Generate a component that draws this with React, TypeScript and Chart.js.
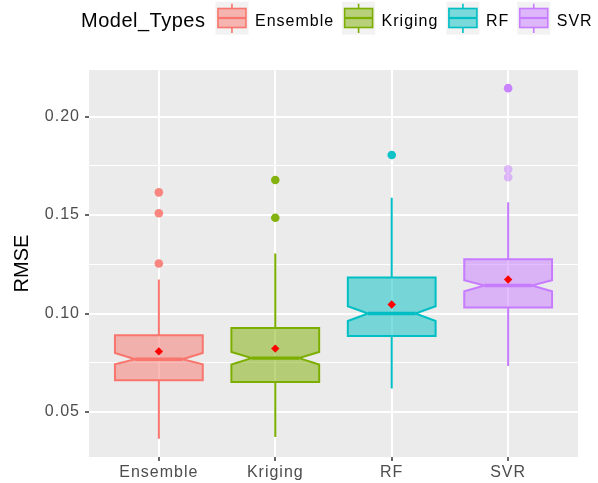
import React, { useEffect, useRef } from 'react';
import { Chart, registerables } from 'chart.js';

Chart.register(...registerables);

// ---- Data ----
const categories = ['Ensemble', 'Kriging', 'RF', 'SVR'];
const whiskerLow = [0.0365, 0.0373, 0.062, 0.0734];
const q1 = [0.0661, 0.0652, 0.0886, 0.1031];
const notchLow = [0.0742, 0.0741, 0.0962, 0.1113];
const medians = [0.0768, 0.0774, 0.1, 0.1142];
const notchHigh = [0.08, 0.0805, 0.1037, 0.1169];
const q3 = [0.089, 0.0927, 0.1183, 0.1275];
const whiskerHigh = [0.1173, 0.1305, 0.1588, 0.1565];
const means = [0.0808, 0.0822, 0.1046, 0.1173];

const ensembleOutliers = [0.1615, 0.1509, 0.1254];
const krigingOutliers = [0.1678, 0.1486];
const rfOutliers = [0.1805];
const svrOutliers = [0.2144, 0.1732, 0.1692];
// how many observations overlap at each outlier (overplotting)
const ensembleOutlierCounts = [3, 3, 3];
const krigingOutlierCounts = [4, 4];
const rfOutlierCounts = [4];
const svrOutlierCounts = [4, 1, 1];

const yMajorTicks = [0.05, 0.1, 0.15, 0.2];
const yMinorTicks = [0.075, 0.125, 0.175];
const yMin = 0.0272;
const yMax = 0.2236;

const legendTitle = 'Model_Types';
const yAxisTitle = 'RMSE';
const colors = ['#F8766D', '#7CAE00', '#00BFC4', '#C77CFF'];

const outlierSets = [ensembleOutliers, krigingOutliers, rfOutliers, svrOutliers];
const outlierCountSets = [ensembleOutlierCounts, krigingOutlierCounts, rfOutlierCounts, svrOutlierCounts];

const FONT = '"Liberation Sans", Arial, Helvetica, sans-serif';

function rgba(hex: string, a: number) {
  const n = parseInt(hex.slice(1), 16);
  return `rgba(${(n >> 16) & 255},${(n >> 8) & 255},${n & 255},${a})`;
}

const panelPlugin = {
  id: 'panelBg',
  beforeDraw(chart: any) {
    const { ctx, chartArea } = chart;
    ctx.save();
    ctx.letterSpacing = '0px';
    ctx.fillStyle = '#EBEBEB';
    ctx.fillRect(chartArea.left, chartArea.top, chartArea.right - chartArea.left, chartArea.bottom - chartArea.top);
    ctx.restore();
    ctx.letterSpacing = '0px';
  },
  afterDatasetsDraw(chart: any) {
    // tick labels are drawn after datasets (ticks.z = 1); give them ggplot-like spacing
    chart.ctx.letterSpacing = '1px';
  },
};

const boxPlugin = {
  id: 'notchedBoxes',
  beforeDatasetsDraw(chart: any) {
    const { ctx } = chart;
    const x = chart.scales.x;
    const y = chart.scales.y;
    const unit = x.getPixelForValue(1) - x.getPixelForValue(0);
    const halfW = unit * 0.377;
    const inset = halfW * 0.46;
    categories.forEach((_, i) => {
      const cx = x.getPixelForValue(i);
      const col = colors[i];
      const yq3 = y.getPixelForValue(q3[i]);
      const yq1 = y.getPixelForValue(q1[i]);
      const ynh = y.getPixelForValue(notchHigh[i]);
      const ynl = y.getPixelForValue(notchLow[i]);
      const ymed = y.getPixelForValue(medians[i]);
      const l = cx - halfW;
      const r = cx + halfW;
      ctx.save();
      ctx.strokeStyle = col;
      ctx.lineWidth = 2;
      ctx.lineCap = 'butt';
      ctx.beginPath();
      ctx.moveTo(cx, y.getPixelForValue(whiskerHigh[i]));
      ctx.lineTo(cx, yq3);
      ctx.moveTo(cx, yq1);
      ctx.lineTo(cx, y.getPixelForValue(whiskerLow[i]));
      ctx.stroke();

      ctx.beginPath();
      ctx.moveTo(l, yq3);
      ctx.lineTo(r, yq3);
      ctx.lineTo(r, ynh);
      ctx.lineTo(r - inset, ymed);
      ctx.lineTo(r, ynl);
      ctx.lineTo(r, yq1);
      ctx.lineTo(l, yq1);
      ctx.lineTo(l, ynl);
      ctx.lineTo(l + inset, ymed);
      ctx.lineTo(l, ynh);
      ctx.closePath();
      ctx.fillStyle = rgba(col, 0.5);
      ctx.fill();
      ctx.lineJoin = 'miter';
      ctx.stroke();

      ctx.lineWidth = 3.4;
      ctx.beginPath();
      ctx.moveTo(l + inset, ymed);
      ctx.lineTo(r - inset, ymed);
      ctx.stroke();
      ctx.restore();
    });
  },
};

const legendPlugin = {
  id: 'ggLegend',
  afterDraw(chart: any) {
    const { ctx } = chart;
    ctx.save();
    ctx.textAlign = 'left';
    ctx.textBaseline = 'alphabetic';
    ctx.letterSpacing = '0.5px';
    ctx.font = `20px ${FONT}`;
    ctx.fillStyle = '#000000';
    let xPos = 81;
    ctx.fillText(legendTitle, xPos, 26.7);
    xPos += ctx.measureText(legendTitle).width + 10;
    ctx.letterSpacing = '1px';
    ctx.font = `16px ${FONT}`;
    const keyTop = 1.7;
    const keySize = 33;
    categories.forEach((c, i) => {
      const col = colors[i];
      ctx.fillStyle = '#F2F2F2';
      ctx.fillRect(xPos, keyTop, keySize, keySize);
      const cx = xPos + keySize / 2;
      const bl = xPos + 2.5;
      const bw = keySize - 5;
      const bt = 8.5;
      const bb = 27.5;
      ctx.strokeStyle = col;
      ctx.lineWidth = 1.6;
      ctx.beginPath();
      ctx.moveTo(cx, 3.8);
      ctx.lineTo(cx, bt);
      ctx.moveTo(cx, bb);
      ctx.lineTo(cx, 33);
      ctx.stroke();
      ctx.fillStyle = rgba(col, 0.5);
      ctx.fillRect(bl, bt, bw, bb - bt);
      ctx.strokeRect(bl, bt, bw, bb - bt);
      ctx.lineWidth = 2.2;
      ctx.beginPath();
      ctx.moveTo(bl, (bt + bb) / 2);
      ctx.lineTo(bl + bw, (bt + bb) / 2);
      ctx.stroke();
      xPos += keySize + 6.5;
      ctx.fillStyle = '#000000';
      ctx.fillText(c, xPos, 25.8);
      xPos += ctx.measureText(c).width + 8;
    });
    ctx.restore();
  },
};

export default function App() {
  const canvasRef = useRef<HTMLCanvasElement | null>(null);

  useEffect(() => {
    const canvas = canvasRef.current;
    if (!canvas) return;

    const datasets: any[] = categories.map((c, i) => ({
      label: c,
      data: outlierSets[i].map((v) => ({ x: i, y: v })),
      pointRadius: 4.3,
      pointHoverRadius: 4.3,
      pointBackgroundColor: outlierCountSets[i].map((n) => rgba(colors[i], 1 - Math.pow(0.5, n))),
      pointBorderWidth: 0,
      showLine: false,
    }));
    datasets.push({
      label: 'mean',
      data: means.map((m, i) => ({ x: i, y: m })),
      pointStyle: 'rectRot',
      pointRadius: 4.2,
      pointHoverRadius: 4.2,
      pointBackgroundColor: '#FF0000',
      pointBorderWidth: 0,
      showLine: false,
    });

    const chart = new Chart(canvas, {
      type: 'scatter',
      data: { datasets },
      options: {
        animation: false,
        responsive: false,
        events: [],
        layout: { padding: { top: 70, right: 20, left: 0, bottom: 0 } },
        plugins: {
          legend: { display: false },
          tooltip: { enabled: false },
        },
        scales: {
          x: {
            type: 'linear',
            min: -0.6,
            max: 3.6,
            afterBuildTicks: (scale: any) => {
              scale.ticks = categories.map((_, i) => ({ value: i }));
            },
            afterFit: (scale: any) => {
              scale.height = 26;
            },
            border: { display: false },
            grid: {
              color: '#FFFFFF',
              lineWidth: 2,
              tickColor: '#333333',
              tickWidth: 1.5,
              tickLength: 4,
            },
            ticks: {
              z: 1,
              autoSkip: false,
              maxRotation: 0,
              padding: 1.5,
              color: '#4D4D4D',
              font: { family: FONT, size: 16 },
              callback: (v: any) => categories[Number(v)] ?? '',
            },
          },
          y: {
            type: 'linear',
            min: yMin,
            max: yMax,
            afterBuildTicks: (scale: any) => {
              scale.ticks = [
                ...yMajorTicks.map((v) => ({ value: v, minor: false })),
                ...yMinorTicks.map((v) => ({ value: v, minor: true })),
              ].sort((a, b) => a.value - b.value);
            },
            afterFit: (scale: any) => {
              scale.width = 89;
            },
            border: { display: false },
            grid: {
              color: '#FFFFFF',
              lineWidth: (c: any) => (c.tick && c.tick.minor ? 1 : 2),
              tickColor: (c: any) => (c.tick && c.tick.minor ? 'rgba(0,0,0,0)' : '#333333'),
              tickWidth: 1.5,
              tickLength: 4,
            },
            title: {
              display: true,
              text: yAxisTitle,
              color: '#000000',
              font: { family: FONT, size: 20 },
              padding: { top: 10, bottom: 0 },
            },
            ticks: {
              z: 1,
              autoSkip: false,
              padding: 5,
              color: '#4D4D4D',
              font: { family: FONT, size: 16 },
              callback: (v: any, idx: number, ticks: any[]) =>
                ticks[idx] && ticks[idx].minor ? '' : Number(v).toFixed(2),
            },
          },
        },
      },
      plugins: [panelPlugin, boxPlugin, legendPlugin],
    });

    return () => {
      chart.destroy();
    };
  }, []);

  return (
    <div style={{ position: 'fixed', left: 0, top: 0, width: 598, height: 483, background: '#FFFFFF' }}>
      <canvas ref={canvasRef} width={598} height={483} style={{ display: 'block' }} />
    </div>
  );
}
